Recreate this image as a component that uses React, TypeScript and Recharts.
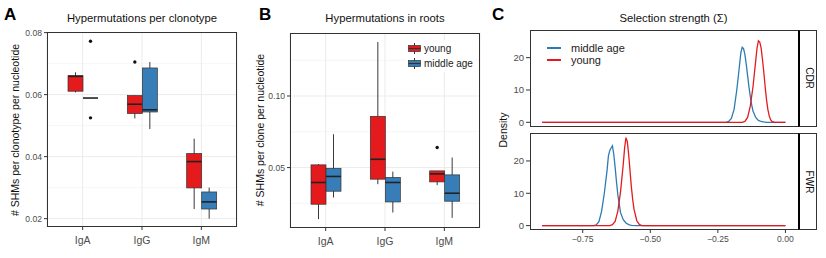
import React from "react";
import {
  ComposedChart,
  Bar,
  XAxis,
  YAxis,
  CartesianGrid,
  LineChart,
  Line,
} from "recharts";

const cats = ["IgA", "IgG", "IgM"];

// panel A: hypermutations per clonotype
const aYoungLo = [0.0607, 0.0523, 0.0231];
const aYoungQ1 = [0.0611, 0.0539, 0.0299];
const aYoungMed = [0.0659, 0.0569, 0.0384];
const aYoungQ3 = [0.0661, 0.0597, 0.041];
const aYoungHi = [0.0672, 0.0597, 0.0458];
const aYoungOut = [[], [0.0705], []];
const aMidLo = [0.0589, 0.0489, 0.02];
const aMidQ1 = [0.0589, 0.0544, 0.0231];
const aMidMed = [0.0589, 0.0551, 0.0254];
const aMidQ3 = [0.0589, 0.0686, 0.0286];
const aMidHi = [0.0589, 0.0705, 0.03];
const aMidOut = [[0.0772, 0.0525], [], []];

// panel B: hypermutations in roots
const bYoungLo = [0.014, 0.0384, 0.0377];
const bYoungQ1 = [0.0244, 0.0419, 0.04];
const bYoungMed = [0.0396, 0.0558, 0.0456];
const bYoungQ3 = [0.0519, 0.0858, 0.0477];
const bYoungHi = [0.0525, 0.1377, 0.0477];
const bYoungOut = [[], [], [0.064]];
const bMidLo = [0.0291, 0.0186, 0.0149];
const bMidQ1 = [0.0335, 0.026, 0.0265];
const bMidMed = [0.0438, 0.0396, 0.0321];
const bMidQ3 = [0.0495, 0.0431, 0.0449];
const bMidHi = [0.0733, 0.0472, 0.057];
const bMidOut = [[], [], []];

// panel C: selection strength densities
const cdrMidX = [-0.9, -0.22, -0.21, -0.2, -0.19, -0.18, -0.17, -0.165, -0.16, -0.155, -0.15, -0.145, -0.14, -0.135, -0.13, -0.125, -0.12, -0.11, -0.1, -0.09, -0.08, -0.07, 0];
const cdrMidY = [0, 0, 0.3, 1.2, 4, 10, 17.5, 21.5, 23.2, 22.8, 21, 18, 14.5, 11, 8, 5.5, 3.5, 1.5, 0.6, 0.25, 0.1, 0, 0];
const cdrYoungX = [-0.9, -0.16, -0.15, -0.14, -0.13, -0.12, -0.11, -0.105, -0.1, -0.095, -0.09, -0.085, -0.08, -0.075, -0.07, -0.065, -0.06, -0.055, -0.05, -0.04, 0];
const cdrYoungY = [0, 0, 0.3, 1.5, 5, 11, 19, 23, 25.2, 24.8, 23, 19.5, 15.5, 11, 7, 4, 2, 0.8, 0.3, 0, 0];
const fwrMidX = [-0.9, -0.71, -0.7, -0.69, -0.68, -0.67, -0.66, -0.655, -0.65, -0.645, -0.64, -0.635, -0.63, -0.625, -0.62, -0.61, -0.6, -0.59, -0.58, -0.57, -0.55, 0];
const fwrMidY = [0, 0, 0.2, 1.2, 4.5, 10, 17, 21.5, 23.2, 24, 24.7, 22, 18, 13.5, 9.5, 4, 1.8, 0.8, 0.3, 0.1, 0, 0];
const fwrYoungX = [-0.9, -0.65, -0.64, -0.63, -0.62, -0.61, -0.6, -0.595, -0.59, -0.585, -0.58, -0.575, -0.57, -0.565, -0.56, -0.55, -0.54, -0.53, 0];
const fwrYoungY = [0, 0, 0.3, 1.3, 4.5, 10.5, 19, 24, 27.2, 26, 22, 17, 12, 8, 5, 1.5, 0.3, 0, 0];

const RED = "#E41A1C";
const BLUE = "#377EB8";
const LINE_BLUE = "#2C7BB6";
const FONT = '"Liberation Sans", Arial, sans-serif';

type Stats = { lo: number; q1: number; med: number; q3: number; hi: number; out: number[] };

const toStats = (lo: number[], q1: number[], med: number[], q3: number[], hi: number[], out: number[][]): Stats[] =>
  cats.map((_, i) => ({ lo: lo[i], q1: q1[i], med: med[i], q3: q3[i], hi: hi[i], out: out[i] }));

const aYoung = toStats(aYoungLo, aYoungQ1, aYoungMed, aYoungQ3, aYoungHi, aYoungOut);
const aMid = toStats(aMidLo, aMidQ1, aMidMed, aMidQ3, aMidHi, aMidOut);
const bYoung = toStats(bYoungLo, bYoungQ1, bYoungMed, bYoungQ3, bYoungHi, bYoungOut);
const bMid = toStats(bMidLo, bMidQ1, bMidMed, bMidQ3, bMidHi, bMidOut);

const rows = cats.map((cat, i) => ({ cat, i }));

const zip = (xs: number[], ys: number[]) => xs.map((x, k) => ({ x, y: ys[k] }));

function rangeOf(s: Stats): [number, number] {
  const all = [s.lo, s.hi, ...s.out];
  return [Math.min(...all), Math.max(...all)];
}

function BoxGlyph(props: any) {
  const { x, y, width, height, s, fill } = props;
  const [lo, hi] = rangeOf(s);
  const span = hi - lo;
  const py = (v: number) => (span === 0 ? y : y + (height * (hi - v)) / span);
  const cx = x + width / 2;
  return (
    <g>
      <line x1={cx} x2={cx} y1={py(s.hi)} y2={py(s.lo)} stroke="#3a3a3a" strokeWidth={1} />
      <rect
        x={x}
        y={py(s.q3)}
        width={width}
        height={Math.max(py(s.q1) - py(s.q3), 0)}
        fill={fill}
        stroke="#333"
        strokeWidth={0.7}
      />
      <line x1={x} x2={x + width} y1={py(s.med)} y2={py(s.med)} stroke="#222" strokeWidth={1.6} />
      {s.out.map((o: number, k: number) => (
        <circle key={k} cx={cx} cy={py(o)} r={1.7} fill="#111" />
      ))}
    </g>
  );
}

const tickStyle = { fontSize: 8.6, fill: "#4D4D4D", fontFamily: FONT };
const catTick = { fontSize: 10.5, fill: "#4D4D4D", fontFamily: FONT };

function BoxPanel(props: {
  left: number;
  width: number;
  yWidth: number;
  top: number;
  bottomH: number;
  domain: [number, number];
  ticks: number[];
  minor: number[];
  young: Stats[];
  mid: Stats[];
}) {
  const { left, width, yWidth, top, bottomH, domain, ticks, minor, young, mid } = props;
  return (
    <div style={{ position: "absolute", left, top: 0 }}>
      <ComposedChart
        width={width}
        height={258}
        data={rows}
        margin={{ top, right: 3, bottom: 0, left: 0 }}
        barGap={0}
      >
        <CartesianGrid horizontalValues={minor} vertical={false} stroke="#F0F0F0" strokeWidth={0.6} />
        <CartesianGrid horizontalValues={ticks} stroke="#EBEBEB" strokeWidth={1} />
        <XAxis
          dataKey="cat"
          height={bottomH}
          interval={0}
          axisLine={false}
          tickSize={3}
          tickMargin={7}
          tickLine={{ stroke: "#333" }}
          tick={catTick}
          padding={{ left: 6, right: 6 }}
        />
        <YAxis
          type="number"
          domain={domain}
          ticks={ticks}
          allowDataOverflow
          width={yWidth}
          axisLine={false}
          tickSize={3}
          tickMargin={2}
          tickLine={{ stroke: "#333" }}
          tick={tickStyle}
          tickFormatter={(v: number) => v.toFixed(2)}
        />
        <Bar
          dataKey={(d: any) => rangeOf(young[d.i])}
          barSize={15}
          isAnimationActive={false}
          shape={(p: any) => <BoxGlyph {...p} s={young[p.payload.i]} fill={RED} />}
        />
        <Bar
          dataKey={(d: any) => rangeOf(mid[d.i])}
          barSize={15}
          isAnimationActive={false}
          shape={(p: any) => <BoxGlyph {...p} s={mid[p.payload.i]} fill={BLUE} />}
        />
      </ComposedChart>
    </div>
  );
}

const fmtX = (v: number) => (v < 0 ? "\u2212" + Math.abs(v).toFixed(2) : v.toFixed(2));

function DensityPanel(props: {
  top: number;
  height: number;
  margin: any;
  showX: boolean;
  mid: { x: number; y: number }[];
  young: { x: number; y: number }[];
}) {
  const { top, height, margin, showX, mid, young } = props;
  return (
    <div style={{ position: "absolute", left: 490, top }}>
      <LineChart width={308} height={height} margin={margin}>
        <XAxis
          type="number"
          dataKey="x"
          domain={[-0.945, 0.0465]}
          ticks={[-0.75, -0.5, -0.25, 0]}
          allowDataOverflow
          hide={!showX}
          height={28}
          axisLine={false}
          tickSize={3}
          tickMargin={3}
          tickLine={{ stroke: "#333" }}
          tick={tickStyle}
          tickFormatter={fmtX}
        />
        <YAxis
          type="number"
          dataKey="y"
          domain={[-1.36, 28.56]}
          ticks={[0, 10, 20]}
          allowDataOverflow
          width={40}
          axisLine={false}
          tickSize={4}
          tickMargin={2}
          tickLine={{ stroke: "#333" }}
          tick={{ ...tickStyle, fontSize: 9.5 }}
        />
        <Line data={mid} dataKey="y" name="middle age" stroke={LINE_BLUE} strokeWidth={1.3} dot={false} type="linear" isAnimationActive={false} />
        <Line data={young} dataKey="y" name="young" stroke={RED} strokeWidth={1.3} dot={false} type="linear" isAnimationActive={false} />
      </LineChart>
    </div>
  );
}

const abs = (l: number, t: number, extra: React.CSSProperties = {}): React.CSSProperties => ({
  position: "absolute",
  left: l,
  top: t,
  ...extra,
});

function Border({ l, t, w, h }: { l: number; t: number; w: number; h: number }) {
  return (
    <div
      style={abs(l, t, {
        width: w,
        height: h,
        border: "1px solid #333",
        boxSizing: "border-box",
        pointerEvents: "none",
      })}
    />
  );
}

function VText({ x, y, text, rot = -90, size = 10.5 }: { x: number; y: number; text: string; rot?: number; size?: number }) {
  return (
    <div
      style={abs(x, y, {
        transform: `translate(-50%, -50%) rotate(${rot}deg)`,
        whiteSpace: "nowrap",
        fontSize: size,
        lineHeight: "12px",
        color: "#111",
      })}
    >
      {text}
    </div>
  );
}

function Title({ l, w, text }: { l: number; w: number; text: string }) {
  return (
    <div style={abs(l, 12, { width: w, textAlign: "center", fontSize: 11.3, lineHeight: "13px", color: "#111", whiteSpace: "nowrap" })}>
      {text}
    </div>
  );
}

function BoxKey({ fill }: { fill: string }) {
  return (
    <svg width={13} height={11} style={{ display: "block" }}>
      <line x1={6.5} x2={6.5} y1={0} y2={11} stroke="#333" strokeWidth={1} />
      <rect x={0.5} y={2.5} width={12} height={6} fill={fill} stroke="#333" strokeWidth={0.7} />
      <line x1={0.5} x2={12.5} y1={5.5} y2={5.5} stroke="#333" strokeWidth={1.2} />
    </svg>
  );
}

export default function App() {
  return (
    <div
      style={{
        position: "fixed",
        left: 0,
        top: 0,
        width: 826,
        height: 258,
        background: "#fff",
        fontFamily: FONT,
        overflow: "hidden",
      }}
    >
      <BoxPanel
        left={0}
        width={240}
        yWidth={47}
        top={32}
        bottomH={31}
        domain={[0.0173, 0.0802]}
        ticks={[0.02, 0.04, 0.06, 0.08]}
        minor={[0.03, 0.05, 0.07]}
        young={aYoung}
        mid={aMid}
      />
      <BoxPanel
        left={250}
        width={233}
        yWidth={40}
        top={33}
        bottomH={30}
        domain={[0.0078, 0.144]}
        ticks={[0.05, 0.1]}
        minor={[0.025, 0.075, 0.125]}
        young={bYoung}
        mid={bMid}
      />
      <DensityPanel
        top={0}
        height={130}
        margin={{ top: 30, right: 0, bottom: 3.3, left: 0 }}
        showX={false}
        mid={zip(cdrMidX, cdrMidY)}
        young={zip(cdrYoungX, cdrYoungY)}
      />
      <DensityPanel
        top={130}
        height={128}
        margin={{ top: 3.3, right: 0, bottom: 0, left: 0 }}
        showX={true}
        mid={zip(fwrMidX, fwrMidY)}
        young={zip(fwrYoungX, fwrYoungY)}
      />

      <Border l={47} t={32} w={190} h={195} />
      <Border l={290} t={33} w={190} h={195} />
      <Border l={530} t={30} w={269} h={97} />
      <Border l={530} t={133} w={269} h={97} />
      <div style={abs(798, 30, { width: 19, height: 97, border: "1px solid #333", borderLeft: "2px solid #000", boxSizing: "border-box", background: "#fff" })} />
      <div style={abs(798, 133, { width: 19, height: 97, border: "1px solid #333", borderLeft: "2px solid #000", boxSizing: "border-box", background: "#fff" })} />
      <VText x={808.5} y={78} text="CDR" rot={90} size={10} />
      <VText x={808.5} y={181.5} text="FWR" rot={90} size={10} />

      <div style={abs(4, 6, { fontSize: 17, fontWeight: "bold", lineHeight: "17px" })}>A</div>
      <div style={abs(259, 6, { fontSize: 17, fontWeight: "bold", lineHeight: "17px" })}>B</div>
      <div style={abs(492, 6, { fontSize: 17, fontWeight: "bold", lineHeight: "17px" })}>C</div>

      <Title l={47} w={190} text="Hypermutations per clonotype" />
      <Title l={290} w={190} text="Hypermutations in roots" />
      <Title l={530} w={287} text={"Selection strength (\u03A3)"} />

      <VText x={15} y={130} text="# SHMs per clonotype per nucleotide" />
      <VText x={260} y={130} text="# SHMs per clone per nucleotide" />
      <VText x={503} y={130} text="Density" />

      <div style={abs(406, 40, { background: "#fff", padding: "1px 2px", fontSize: 10, color: "#222" })}>
        <div style={{ display: "flex", alignItems: "center", height: 15 }}>
          <BoxKey fill={RED} />
          <span style={{ marginLeft: 3 }}>young</span>
        </div>
        <div style={{ display: "flex", alignItems: "center", height: 15 }}>
          <BoxKey fill={BLUE} />
          <span style={{ marginLeft: 3 }}>middle age</span>
        </div>
      </div>

      <div style={abs(547, 42, { fontSize: 11, color: "#222" })}>
        <div style={{ display: "flex", alignItems: "center", height: 12 }}>
          <div style={{ width: 14, height: 1.5, background: LINE_BLUE }} />
          <span style={{ marginLeft: 10 }}>middle age</span>
        </div>
        <div style={{ display: "flex", alignItems: "center", height: 12 }}>
          <div style={{ width: 14, height: 1.5, background: RED }} />
          <span style={{ marginLeft: 10 }}>young</span>
        </div>
      </div>
    </div>
  );
}
